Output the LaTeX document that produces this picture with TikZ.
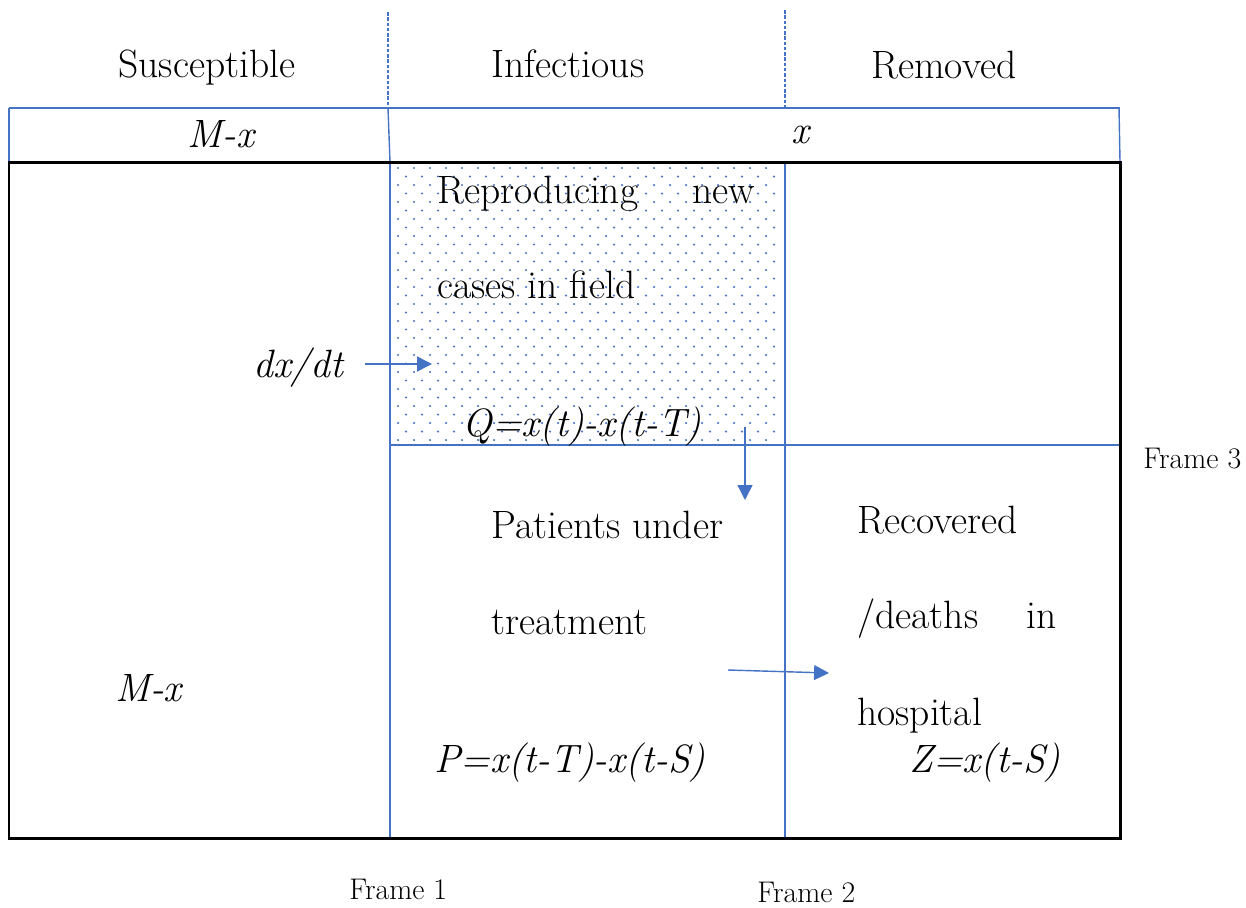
\documentclass[tikz,border=0pt]{standalone}
\usetikzlibrary{arrows.meta}

\definecolor{lineblue}{RGB}{68,114,196}

\tikzset{
  txt/.style={anchor=base west, inner sep=0pt, font=\fontsize{22.5}{27}\selectfont},
  itxt/.style={txt, font=\fontsize{22.5}{27}\selectfont\itshape},
  head/.style={txt, anchor=base},
  frm/.style={anchor=base west, inner sep=0pt, font=\fontsize{17}{20}\selectfont},
  bline/.style={lineblue, line width=0.8pt},
  bdash/.style={bline, dash pattern=on 2pt off 1pt},
  flow/.style={lineblue, line width=0.8pt, -{Triangle[length=8.5pt,width=8.5pt]}}
}

\begin{document}
\begin{tikzpicture}[x=0.02cm,y=-0.02cm]
\useasboundingbox (0,0) rectangle (1246,907);

% dotted area: new cases in field
\foreach \r in {0,...,32}
  \foreach \c in {0,...,23}
    \fill[lineblue] ({398+16*\c+8*mod(\r,2)},{168+8.5*\r}) circle (0.7pt);

% header row
\draw[bdash] (388,12) -- (388,108);
\draw[bdash] (785,10) -- (785,108);
\draw[bline] (9,108) -- (1120,108);
\draw[bline] (9,108) -- (9,162);
\draw[bline] (388,108) -- (390,162);
\draw[bline] (1119,108) -- (1120,162);

% frames
\draw[bline] (390,162) -- (390,838);
\draw[bline] (785,162) -- (785,838);
\draw[bline] (390,445) -- (1120,445);
\draw[line width=1.7pt] (9,162) rectangle (1120,838);

\node[head] (susc) at (207,77) {Susceptible};
\node[head] (infe) at (568,77) {Infectious};
\node[head] (remo) at (944,78) {Removed};

\node[itxt, anchor=base] (mxtop) at (221,147) {M-x};
\node[itxt, anchor=base] (xtop) at (800,143) {x};

\node[txt] (repr) at (437,203) {Reproducing};
\node[txt, anchor=base east] (new) at (755,203) {new};
\node[txt] (cases) at (437,298) {cases in field};
\node[itxt] (qeq) at (462,436) {Q=x(t)-x(t-T)};

\node[itxt] (dxdt) at (253,377) {dx/dt};
\node[itxt] (mxlow) at (115,701) {M-x};

\node[txt] (pat) at (491,538) {Patients under};
\node[txt] (treat) at (491,634) {treatment};
\node[itxt] (peq) at (434,772) {P=x(t-T)-x(t-S)};

\node[txt] (reco) at (857,533) {Recovered};
\node[txt] (death) at (857,628) {/deaths};
\node[txt, anchor=base east] (in) at (1057,628) {in};
\node[txt] (hosp) at (857,725) {hospital};
\node[itxt] (zeq) at (909,772) {Z=x(t-S)};

\node[frm] (fr1) at (349,899) {Frame 1};
\node[frm] (fr2) at (757,902) {Frame 2};
\node[frm] (fr3) at (1143,468) {Frame 3};

% flows
\coordinate (dxs) at (365,364);
\coordinate (dxe) at (432,364);
\coordinate (qs) at (745,427);
\coordinate (qe) at (745,500);
\coordinate (ps) at (728,670);
\coordinate (pe) at (829,673);
\draw[flow] (dxs) -- (dxe);
\draw[flow] (qs) -- (qe);
\draw[flow] (ps) -- (pe);

\end{tikzpicture}
\end{document}
